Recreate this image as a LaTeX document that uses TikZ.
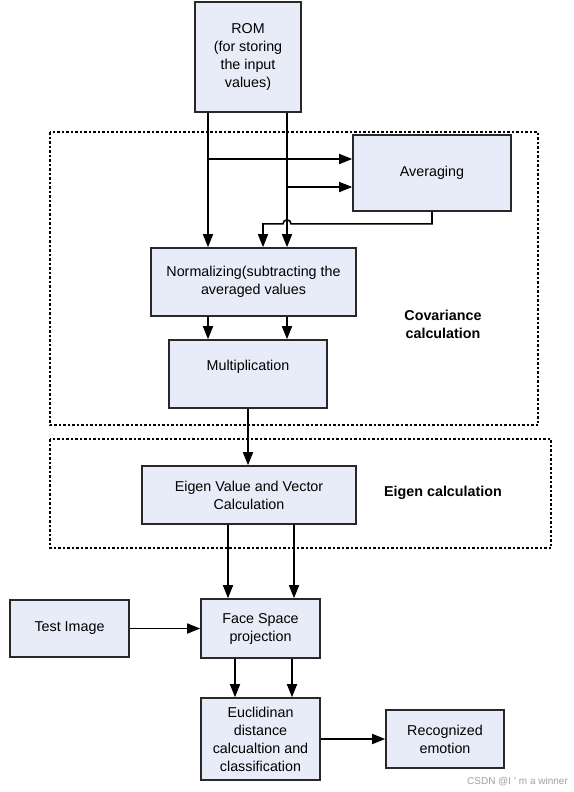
\documentclass[tikz,border=0pt]{standalone}
\usepackage{fontspec}
\setmainfont{Liberation Sans}
\usetikzlibrary{arrows.meta}
\definecolor{boxfill}{RGB}{232,236,248}
\definecolor{boxline}{RGB}{40,40,40}

\begin{document}
\begin{tikzpicture}[x=1pt, y=-1pt, line width=1.6pt]

\useasboundingbox (0,0) rectangle (573,792);

%% setup styles for the blocks

\tikzstyle{block}=[rectangle, draw=boxline, fill=boxfill, line width=1.6pt, inner sep=0pt, align=center, font=\fontsize{14.3}{18}\selectfont]
\tikzstyle{group}=[draw=black, line width=1.3pt, dash pattern=on 2.5pt off 2pt]
\tikzstyle{annot}=[align=center, font=\bfseries\fontsize{14.3}{18}\selectfont]
\tikzstyle{conn}=[-{Triangle[length=13pt,width=10pt]}, line width=1.6pt]

%% define coordinate grid
\def \xmain {248}
\def \xlabel {443}
\def \xbot {260.5}

% dotted groups
\draw[group] (50,132) rectangle (538,425);
\draw[group] (50,439) rectangle (551,548);

% blocks of the covariance part
\node[block, minimum width=106, minimum height=110] (rom) at (\xmain,57) {ROM\\(for storing\\the input\\values)};
\node[block, minimum width=158, minimum height=76] (avg) at (432,173) {Averaging};
\node[block, minimum width=205, minimum height=68] (norm) at (253.5,282) {Normalizing(subtracting the\\averaged values};
\node[block, minimum width=158, minimum height=68] (mult) at (\xmain,374) {Multiplication\\~};
\node[annot] (lcov) at (\xlabel,324) {Covariance\\calculation};

% eigen part
\node[block, minimum width=214, minimum height=58] (eig) at (249,495) {Eigen Value and Vector\\Calculation};
\node[annot] (leig) at (\xlabel,493) {Eigen calculation};

% recognition part
\node[block, minimum width=119, minimum height=59] (face) at (\xbot,628.5) {Face Space\\projection};
\node[block, minimum width=119, minimum height=57] (test) at (69.5,628.5) {Test Image};
\node[block, minimum width=119, minimum height=82] (euc) at (\xbot,739) {Euclidinan\\distance\\calcualtion and\\classification};
\node[block, minimum width=118, minimum height=58] (rec) at (445,739) {Recognized\\emotion};

\node[anchor=east, text=gray!75, font=\fontsize{10}{12}\selectfont] (mark) at (572,782) {CSDN @I ' m a winner};

%% connection points
\coordinate (ra) at ([xshift=-40pt]rom.south);
\coordinate (rb) at ([xshift=39pt]rom.south);
\coordinate (a1) at ([yshift=14pt]avg.west);
\coordinate (a2) at ([yshift=-14pt]avg.west);
\coordinate (h) at ([yshift=-12pt]avg.south);
\coordinate (hc) at (rb |- h);
\coordinate (nc) at ([xshift=9.5pt]norm.north);
\coordinate (ea) at ([xshift=-32.5pt]face.north);
\coordinate (eb) at ([xshift=33.5pt]face.north);
\coordinate (fa) at ([xshift=-25.5pt]euc.north);
\coordinate (fb) at ([xshift=31.5pt]euc.north);

% rom outputs
\foreach \c in {ra,rb}{
	\path[conn] (\c) edge (\c |- norm.north);
	\path[conn] (\c |- norm.south) edge (\c |- mult.north);}

\draw[conn] (ra |- a1) -- (a1);
\draw[conn] (rb |- a2) -- (a2);

% averaged values back to normalizing, hopping over the rom line
\draw[conn] (avg.south) -- (h) -- ([xshift=4pt]hc) arc[start angle=0, end angle=180, radius=4pt] -- (nc |- h) -- (nc);

\draw[conn] (mult.south) -- (mult.south |- eig.north);

\foreach \c in {ea,eb}{
	\path[conn] (\c |- eig.south) edge (\c);}
\foreach \c in {fa,fb}{
	\path[conn] (\c |- face.south) edge (\c);}

\draw[conn] (test) -- (face);
\draw[conn] (euc) -- (rec);

\end{tikzpicture}
\end{document}
